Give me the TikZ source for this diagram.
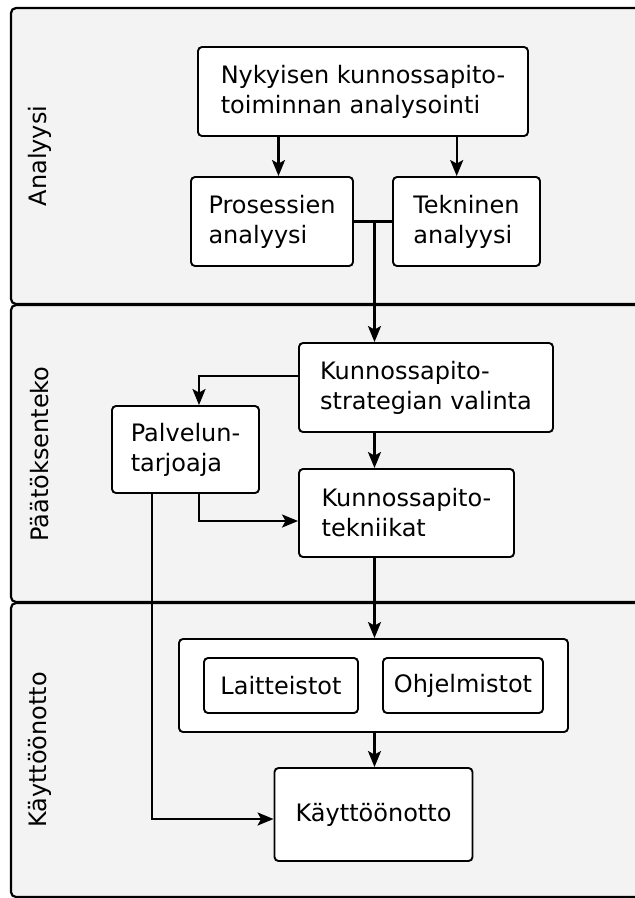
\documentclass[tikz,border=0pt]{standalone}
\usepackage{fontspec}
\setmainfont{DejaVu Sans}
\usetikzlibrary{arrows.meta}
\definecolor{lanefill}{HTML}{F3F3F3}
\begin{document}
\begin{tikzpicture}[x=1pt,y=1pt,
  every node/.style={font=\fontsize{24}{30}\selectfont},
  lane/.style={draw=black, line width=2.2pt, fill=lanefill, rounded corners=5pt},
  lanelabel/.style={rotate=90, anchor=center, inner sep=0pt},
  box/.style={draw=black, line width=1.9pt, fill=white, rounded corners=4pt, align=left, inner sep=0pt},
  conn/.style={line width=2.2pt},
  arr/.style={conn, -{Stealth[length=16pt, width=13pt, inset=3.5pt]}}
]
\clip (0,0) rectangle (635,-898);
\fill[white] (0,0) rectangle (635,-898);
% lanes
\draw[lane] (11,-8) rectangle (660,-304);
\draw[lane] (11,-305) rectangle (660,-602);
\draw[lane] (11,-603) rectangle (660,-897);
\node[lanelabel] (l1) at (40,-156) {Analyysi};
\node[lanelabel] (l2) at (40,-454) {Päätöksenteko};
\node[lanelabel] (l3) at (40,-750) {Käyttöönotto};
% nodes
\node[box, minimum width=330, minimum height=89] (nyk) at (363,-91.5) {Nykyisen kunnossapito-\\toiminnan analysointi};
\node[box, minimum width=162, minimum height=89] (pros) at (272,-221.5) {Prosessien\\analyysi};
\node[box, minimum width=147, minimum height=89] (tek) at (466.5,-221.5) {Tekninen\\analyysi};
\node[box, minimum width=254, minimum height=89] (strat) at (426,-387.5) {Kunnossapito-\\strategian valinta};
\node[box, minimum width=147, minimum height=87] (palv) at (185.5,-449.5) {Palvelun-\\tarjoaja};
\node[box, minimum width=215, minimum height=88] (tech) at (406.5,-513) {Kunnossapito-\\tekniikat};
\node[box, minimum width=389, minimum height=93] (cont) at (373.5,-685.5) {};
\node[box, minimum width=154, minimum height=55] (lait) at (281,-685.5) {Laitteistot};
\node[box, minimum width=160, minimum height=55] (ohj) at (463,-685.5) {Ohjelmistot};
\node[box, minimum width=198, minimum height=93] (kay) at (373.5,-814.5) {Käyttöönotto};
% helper coordinates
\coordinate (xa) at (278.5,0);
\coordinate (xb) at (456.7,0);
\coordinate (xc) at (374.5,0);
\coordinate (xd) at (199,0);
\coordinate (xf) at (152,0);
\coordinate (yd) at (0,-375.7);
\coordinate (ye) at (0,-521);
\coordinate (yf) at (0,-819);
\coordinate (jn) at (374.5,-221.5);
% connectors
\draw[arr] (nyk.south -| xa) -- (pros.north -| xa);
\draw[arr] (nyk.south -| xb) -- (tek.north -| xb);
\draw[conn] (pros.east) -- (tek.west);
\draw[arr] (jn) -- (strat.north -| xc);
\draw[arr] (strat.west |- yd) -| (palv.north -| xd);
\draw[arr] (strat.south -| xc) -- (tech.north -| xc);
\draw[arr] (palv.south -| xd) |- (tech.west |- ye);
\draw[arr] (tech.south -| xc) -- (cont.north -| xc);
\draw[arr] (cont.south -| xc) -- (kay.north -| xc);
\draw[arr] (palv.south -| xf) |- (kay.west |- yf);
\end{tikzpicture}
\end{document}
